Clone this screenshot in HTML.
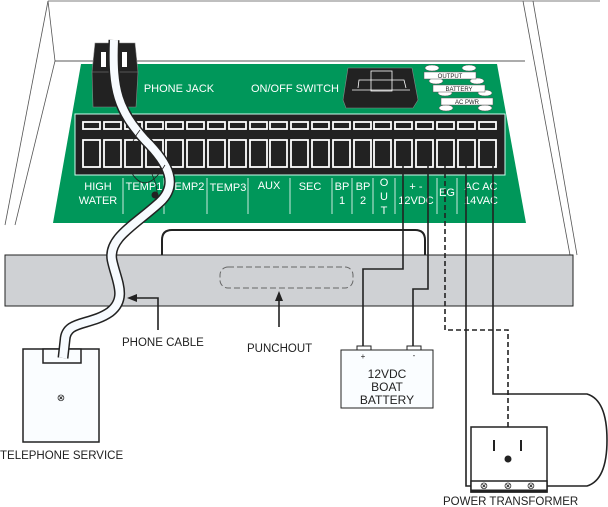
<!DOCTYPE html>
<html><head><meta charset="utf-8"><style>
html,body{margin:0;padding:0;background:#fff;}
svg{display:block;font-family:"Liberation Sans",sans-serif;}
</style></head><body>
<svg width="608" height="507" viewBox="0 0 608 507" xmlns="http://www.w3.org/2000/svg">
<g fill="none" stroke="#555" stroke-width="0.8">
<line x1="48" y1="1" x2="600" y2="1"/>
<line x1="48" y1="1" x2="5" y2="225"/>
<polyline points="48,1 55,61 15,225"/>
<line x1="55" y1="61" x2="525" y2="61" stroke="#222"/>
<line x1="523" y1="1" x2="570" y2="255"/>
<line x1="533" y1="1" x2="577" y2="255"/>
</g>
<polygon points="81,64 497,64 526,223 53,223" fill="#00975a"/>
<rect x="75" y="114" width="430" height="61" fill="#222" stroke="#cfe" stroke-width="1"/>
<g fill="#222" stroke="#fff" stroke-width="1.8">
<rect x="83" y="122" width="17" height="7"/><rect x="83" y="140" width="17" height="27"/>
<rect x="104" y="122" width="17" height="7"/><rect x="104" y="140" width="17" height="27"/>
<rect x="125" y="122" width="17" height="7"/><rect x="125" y="140" width="17" height="27"/>
<rect x="146" y="122" width="17" height="7"/><rect x="146" y="140" width="17" height="27"/>
<rect x="166" y="122" width="17" height="7"/><rect x="166" y="140" width="17" height="27"/>
<rect x="187" y="122" width="17" height="7"/><rect x="187" y="140" width="17" height="27"/>
<rect x="208" y="122" width="17" height="7"/><rect x="208" y="140" width="17" height="27"/>
<rect x="229" y="122" width="17" height="7"/><rect x="229" y="140" width="17" height="27"/>
<rect x="250" y="122" width="17" height="7"/><rect x="250" y="140" width="17" height="27"/>
<rect x="270" y="122" width="17" height="7"/><rect x="270" y="140" width="17" height="27"/>
<rect x="291" y="122" width="17" height="7"/><rect x="291" y="140" width="17" height="27"/>
<rect x="312" y="122" width="17" height="7"/><rect x="312" y="140" width="17" height="27"/>
<rect x="333" y="122" width="17" height="7"/><rect x="333" y="140" width="17" height="27"/>
<rect x="354" y="122" width="17" height="7"/><rect x="354" y="140" width="17" height="27"/>
<rect x="374" y="122" width="17" height="7"/><rect x="374" y="140" width="17" height="27"/>
<rect x="395" y="122" width="17" height="7"/><rect x="395" y="140" width="17" height="27"/>
<rect x="416" y="122" width="17" height="7"/><rect x="416" y="140" width="17" height="27"/>
<rect x="437" y="122" width="17" height="7"/><rect x="437" y="140" width="17" height="27"/>
<rect x="458" y="122" width="17" height="7"/><rect x="458" y="140" width="17" height="27"/>
<rect x="479" y="122" width="17" height="7"/><rect x="479" y="140" width="17" height="27"/>
</g>
<g stroke="#fff" stroke-width="0.8">
<line x1="123" y1="178" x2="123" y2="214"/><line x1="164" y1="178" x2="164" y2="214"/>
<line x1="207" y1="178" x2="207" y2="214"/><line x1="248" y1="178" x2="248" y2="214"/>
<line x1="290" y1="178" x2="290" y2="214"/><line x1="332" y1="178" x2="332" y2="214"/>
<line x1="352" y1="178" x2="352" y2="214"/><line x1="373" y1="178" x2="373" y2="214"/>
<line x1="395" y1="178" x2="395" y2="214"/><line x1="437" y1="178" x2="437" y2="214"/>
<line x1="457" y1="178" x2="457" y2="214"/>
</g>
<g fill="#fff" font-size="11" text-anchor="middle">
<text x="98" y="190">HIGH</text><text x="98" y="204">WATER</text>
<text x="144" y="190">TEMP1</text><text x="186" y="190">TEMP2</text>
<text x="228" y="191">TEMP3</text><text x="269" y="189">AUX</text>
<text x="310" y="190">SEC</text>
<text x="342" y="190">BP</text><text x="342" y="204">1</text>
<text x="363" y="190">BP</text><text x="363" y="204">2</text>
<text x="384" y="186">O</text><text x="384" y="200">U</text><text x="384" y="214">T</text>
<text x="416" y="190">+ -</text><text x="416" y="204">12VDC</text>
<text x="447" y="196">EG</text>
<text x="481" y="190">AC AC</text><text x="481" y="204">14VAC</text>
<text x="179" y="92">PHONE JACK</text>
<text x="295" y="92">ON/OFF SWITCH</text>
</g>
<polygon points="95,43 135,43 138,72 136,107 93,107 92,72" fill="#222" stroke="#888" stroke-width="0.6"/>
<line x1="92" y1="72" x2="138" y2="72" stroke="#888" stroke-width="0.6"/>
<rect x="101" y="52" width="5" height="15" fill="#fff"/><rect x="122" y="52" width="5" height="15" fill="#fff"/>
<polygon points="348,68 412,68 418,100 413,108 346,108 343,100" fill="#222" stroke="#888" stroke-width="0.6"/>
<rect x="371" y="71" width="21" height="20" fill="none" stroke="#fff" stroke-width="0.8"/>
<polyline points="358,88 359,80 404,80 406,88" fill="none" stroke="#fff" stroke-width="0.8"/>
<line x1="352" y1="90" x2="410" y2="90" stroke="#fff" stroke-width="0.8"/>
<g fill="#fff" stroke="#555" stroke-width="0.5">
<ellipse cx="432" cy="68" rx="7" ry="3"/><ellipse cx="469" cy="68" rx="7" ry="3"/>
<ellipse cx="436" cy="81" rx="7" ry="3"/><ellipse cx="477" cy="81" rx="7" ry="3"/>
<ellipse cx="445" cy="93" rx="7" ry="3"/><ellipse cx="485" cy="93" rx="7" ry="3"/>
<ellipse cx="446" cy="108" rx="7" ry="3"/><ellipse cx="485" cy="108" rx="7" ry="3"/>
<rect x="424" y="72" width="52" height="7"/>
<rect x="433" y="85" width="52" height="7"/>
<rect x="441" y="98" width="52" height="7"/>
</g>
<g font-size="6" text-anchor="middle" fill="#222">
<text x="450" y="78">OUTPUT</text><text x="459" y="91">BATTERY</text><text x="467" y="104">AC PWR</text>
</g>
<path d="M162,255 V240 Q162,230 172,230 H415 Q425,230 425,240 V255" fill="none" stroke="#222" stroke-width="2"/>
<rect x="5" y="255" width="568" height="51" fill="#cfd1d4" stroke="#222" stroke-width="1"/>
<rect x="220" y="267" width="133" height="21" rx="8" fill="none" stroke="#666" stroke-width="1" stroke-dasharray="6,3"/>
<g fill="none" stroke="#222" stroke-width="1.6">
<polyline points="403,165 403,269 363,269 363,347"/>
<polyline points="428,165 428,289 413,289 413,347"/>
<polyline points="466,165 466,486 471,486"/>
<path d="M493,165 V394 H587 Q607,400 607,440 Q607,480 587,486 H547"/>
</g>
<polyline points="445,165 445,330 508,330 508,459" fill="none" stroke="#222" stroke-width="1.6" stroke-dasharray="5,3"/>
<rect x="357" y="346" width="14" height="5" fill="#fff" stroke="#222"/>
<rect x="407" y="346" width="14" height="5" fill="#fff" stroke="#222"/>
<rect x="341" y="350" width="92" height="58" fill="#fafdff" stroke="#222"/>
<g font-size="12" text-anchor="middle" fill="#222">
<text x="363" y="359" font-size="8">+</text><text x="414" y="358" font-size="8">-</text>
<text x="387" y="378">12VDC</text><text x="387" y="391">BOAT</text><text x="387" y="404">BATTERY</text>
</g>
<rect x="471" y="427" width="76" height="65" fill="#fff" stroke="#222" stroke-width="1.5"/>
<rect x="471" y="481" width="76" height="11" fill="#fff" stroke="#222" stroke-width="1.5"/>
<line x1="471" y1="491" x2="547" y2="491" stroke="#222" stroke-width="3"/>
<line x1="494" y1="440" x2="494" y2="451" stroke="#222" stroke-width="2"/>
<line x1="521" y1="440" x2="521" y2="451" stroke="#222" stroke-width="2"/>
<circle cx="508" cy="459" r="3.5" fill="#222"/>
<g font-size="10" text-anchor="middle" fill="#222"><text x="484" y="489">⊗</text><text x="508" y="489">⊗</text><text x="531" y="489">⊗</text></g>
<rect x="23" y="349" width="76" height="93" fill="#fafdff" stroke="#222" stroke-width="1.5"/>
<rect x="43" y="349" width="38" height="14" fill="#fafdff" stroke="#222" stroke-width="1.5"/>
<text x="61" y="401" font-size="10" text-anchor="middle" fill="#222">⊗</text>
<path d="M114,40 C112,90 118,110 145,140 C170,165 178,185 160,202 C135,225 108,238 112,260 C116,280 128,298 110,312 C90,326 66,320 65,340 L63,358" fill="none" stroke="#222" stroke-width="11"/>
<path d="M114,40 C112,90 118,110 145,140 C170,165 178,185 160,202 C135,225 108,238 112,260 C116,280 128,298 110,312 C90,326 66,320 65,340 L63,358" fill="none" stroke="#f7fbff" stroke-width="8"/>
<path d="M130,160 Q128,145 140,130 M150,170 Q160,190 156,200 M130,170 Q145,198 165,165" fill="none" stroke="#222" stroke-width="0.8"/>
<circle cx="155" cy="195" r="3.5" fill="#222"/>
<g fill="none" stroke="#222" stroke-width="1.6">
<polyline points="158,330 158,298 132,298"/>
<line x1="279" y1="327" x2="279" y2="296"/>
</g>
<polygon points="127,298 137,294 137,302" fill="#222"/>
<polygon points="279,291 275,301 283,301" fill="#222"/>
<g font-size="11.5" fill="#222">
<text x="122" y="346">PHONE CABLE</text>
<text x="247" y="352">PUNCHOUT</text>
<text x="0" y="459">TELEPHONE SERVICE</text>
<text x="443" y="505">POWER TRANSFORMER</text>
</g>
</svg>
</body></html>
